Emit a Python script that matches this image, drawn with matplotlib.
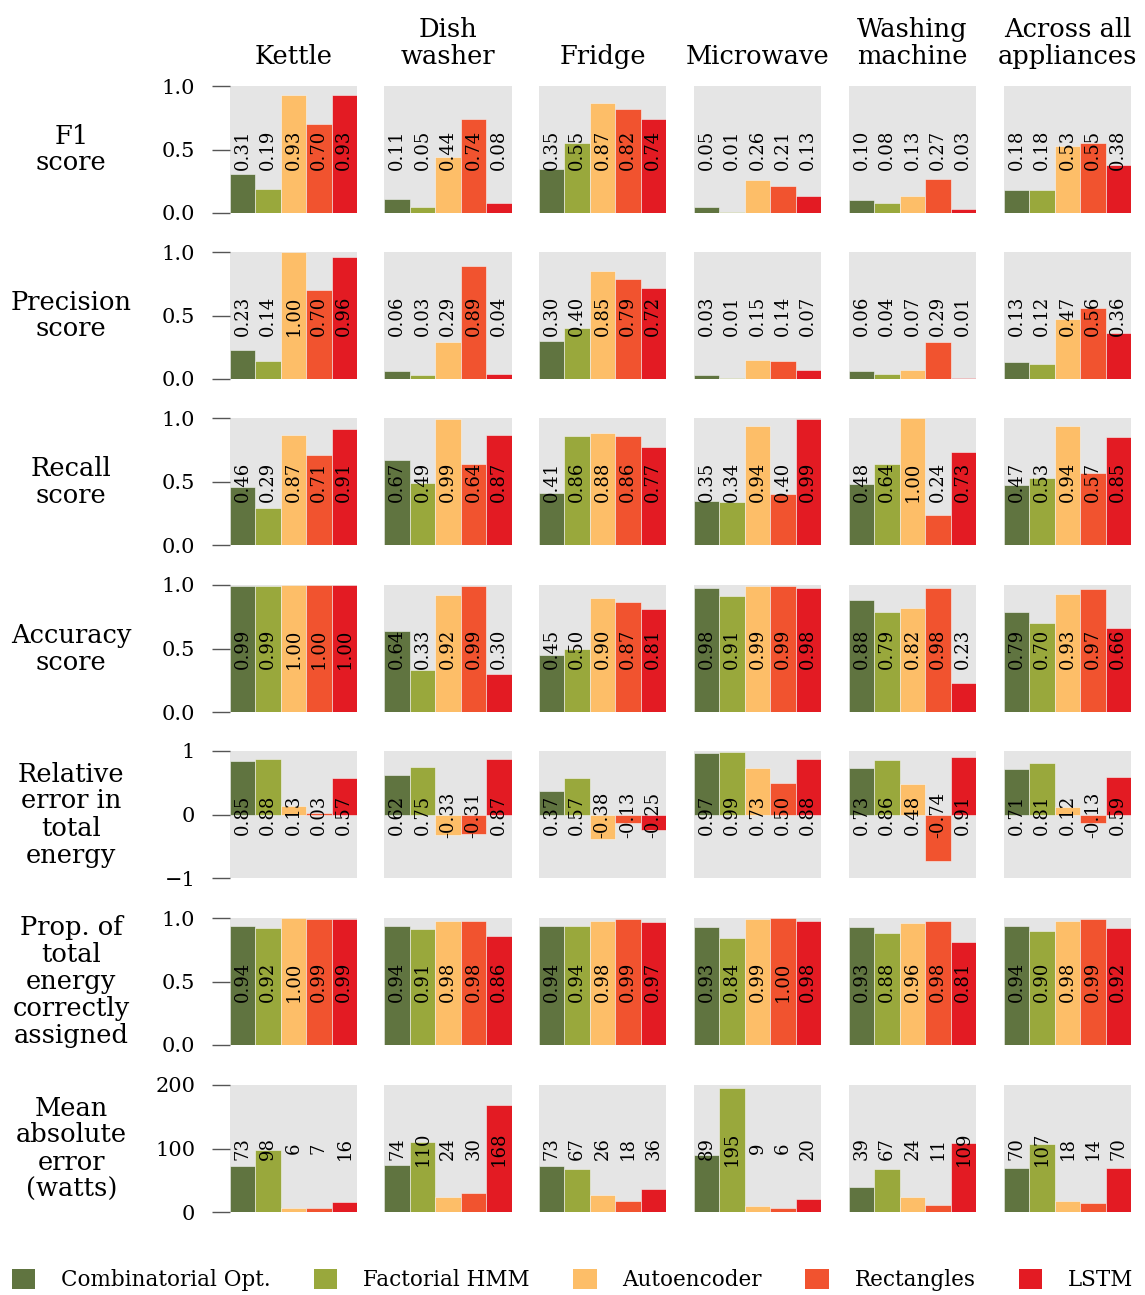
import numpy as np
import matplotlib.pyplot as plt
from matplotlib.patches import Patch

plt.rcParams['font.family'] = ['DejaVu Serif']

appliances = ['Kettle', 'Dish\nwasher', 'Fridge', 'Microwave', 'Washing\nmachine', 'Across all\nappliances']
algorithms = ['Combinatorial Opt.', 'Factorial HMM', 'Autoencoder', 'Rectangles', 'LSTM']
colors = ['#607440', '#99a83c', '#fdbe68', '#f1532f', '#e31b23']

metric_names = ['F1\nscore', 'Precision\nscore', 'Recall\nscore', 'Accuracy\nscore',
                'Relative\nerror in\ntotal\nenergy',
                'Prop. of\ntotal\nenergy\ncorrectly\nassigned',
                'Mean\nabsolute\nerror\n(watts)']

# rows: appliance, cols: algorithm
f1 = [[0.31, 0.19, 0.93, 0.70, 0.93],
      [0.11, 0.05, 0.44, 0.74, 0.08],
      [0.35, 0.55, 0.87, 0.82, 0.74],
      [0.05, 0.01, 0.26, 0.21, 0.13],
      [0.10, 0.08, 0.13, 0.27, 0.03],
      [0.18, 0.18, 0.53, 0.55, 0.38]]
precision = [[0.23, 0.14, 1.00, 0.70, 0.96],
             [0.06, 0.03, 0.29, 0.89, 0.04],
             [0.30, 0.40, 0.85, 0.79, 0.72],
             [0.03, 0.01, 0.15, 0.14, 0.07],
             [0.06, 0.04, 0.07, 0.29, 0.01],
             [0.13, 0.12, 0.47, 0.56, 0.36]]
recall = [[0.46, 0.29, 0.87, 0.71, 0.91],
          [0.67, 0.49, 0.99, 0.64, 0.87],
          [0.41, 0.86, 0.88, 0.86, 0.77],
          [0.35, 0.34, 0.94, 0.40, 0.99],
          [0.48, 0.64, 1.00, 0.24, 0.73],
          [0.47, 0.53, 0.94, 0.57, 0.85]]
accuracy = [[0.99, 0.99, 1.00, 1.00, 1.00],
            [0.64, 0.33, 0.92, 0.99, 0.30],
            [0.45, 0.50, 0.90, 0.87, 0.81],
            [0.98, 0.91, 0.99, 0.99, 0.98],
            [0.88, 0.79, 0.82, 0.98, 0.23],
            [0.79, 0.70, 0.93, 0.97, 0.66]]
rel_error = [[0.85, 0.88, 0.13, 0.03, 0.57],
             [0.62, 0.75, -0.33, -0.31, 0.87],
             [0.37, 0.57, -0.38, -0.13, -0.25],
             [0.97, 0.99, 0.73, 0.50, 0.88],
             [0.73, 0.86, 0.48, -0.74, 0.91],
             [0.71, 0.81, 0.12, -0.13, 0.59]]
prop_energy = [[0.94, 0.92, 1.00, 0.99, 0.99],
               [0.94, 0.91, 0.98, 0.98, 0.86],
               [0.94, 0.94, 0.98, 0.99, 0.97],
               [0.93, 0.84, 0.99, 1.00, 0.98],
               [0.93, 0.88, 0.96, 0.98, 0.81],
               [0.94, 0.90, 0.98, 0.99, 0.92]]
mae = [[73, 98, 6, 7, 16],
       [74, 110, 24, 30, 168],
       [73, 67, 26, 18, 36],
       [89, 195, 9, 6, 20],
       [39, 67, 24, 11, 109],
       [70, 107, 18, 14, 70]]

metrics = [f1, precision, recall, accuracy, rel_error, prop_energy, mae]
ylims = [(0, 1), (0, 1), (0, 1), (0, 1), (-1, 1), (0, 1), (0, 200)]
yticks = [[0, 0.5, 1], [0, 0.5, 1], [0, 0.5, 1], [0, 0.5, 1], [-1, 0, 1], [0, 0.5, 1], [0, 100, 200]]
yticklabels = [['0.0', '0.5', '1.0']] * 4 + [['\u22121', '0', '1']] + [['0.0', '0.5', '1.0']] + [['0', '100', '200']]

W, H = 1145, 1295
fig = plt.figure(figsize=(W / 100, H / 100), dpi=100)

col_left = [230, 384.5, 539, 694, 849, 1004]
row_top = [86, 252, 418, 585, 751, 918, 1085]
aw, ah = 127, 127

for r, data in enumerate(metrics):
    for c, vals in enumerate(data):
        ax = fig.add_axes([col_left[c] / W, 1 - (row_top[r] + ah) / H, aw / W, ah / H])
        ax.set_facecolor('#e5e5e5')
        x = np.arange(len(vals))
        ax.bar(x, vals, width=1.0, color=colors, edgecolor='#f4f4f4', linewidth=0.4)
        lo, hi = ylims[r]
        ax.set_ylim(lo, hi)
        ax.set_xlim(-0.5, len(vals) - 0.5)
        mid = (lo + hi) / 2
        for xi, v in zip(x, vals):
            s = str(v) if r == 6 else '%.2f' % v
            ax.text(xi, mid, s, rotation=90, ha='center', va='center', fontsize=13)
        for sp in ax.spines.values():
            sp.set_visible(False)
        ax.set_xticks([])
        if c == 0:
            ax.set_yticks(yticks[r])
            ax.set_yticklabels(yticklabels[r], fontsize=15)
            ax.tick_params(axis='y', length=13, width=1, color='#555555', pad=12)
            ax.text(-1.25, 0.5, metric_names[r], transform=ax.transAxes, ha='center',
                    va='center', fontsize=18.5, linespacing=1.1)
        else:
            ax.set_yticks([])
        if r == 0:
            ax.set_title(appliances[c], fontsize=18.5, linespacing=1.1, pad=16)

handles = [Patch(facecolor=col, edgecolor='none') for col in colors]
fig.legend(handles, algorithms, loc='lower center', ncol=5, frameon=False, fontsize=15.5,
           bbox_to_anchor=(0.5, -0.012), handlelength=1.1, handleheight=1.1, columnspacing=2.0,
           handletextpad=1.2)

fig.savefig('out.png', dpi=100)
